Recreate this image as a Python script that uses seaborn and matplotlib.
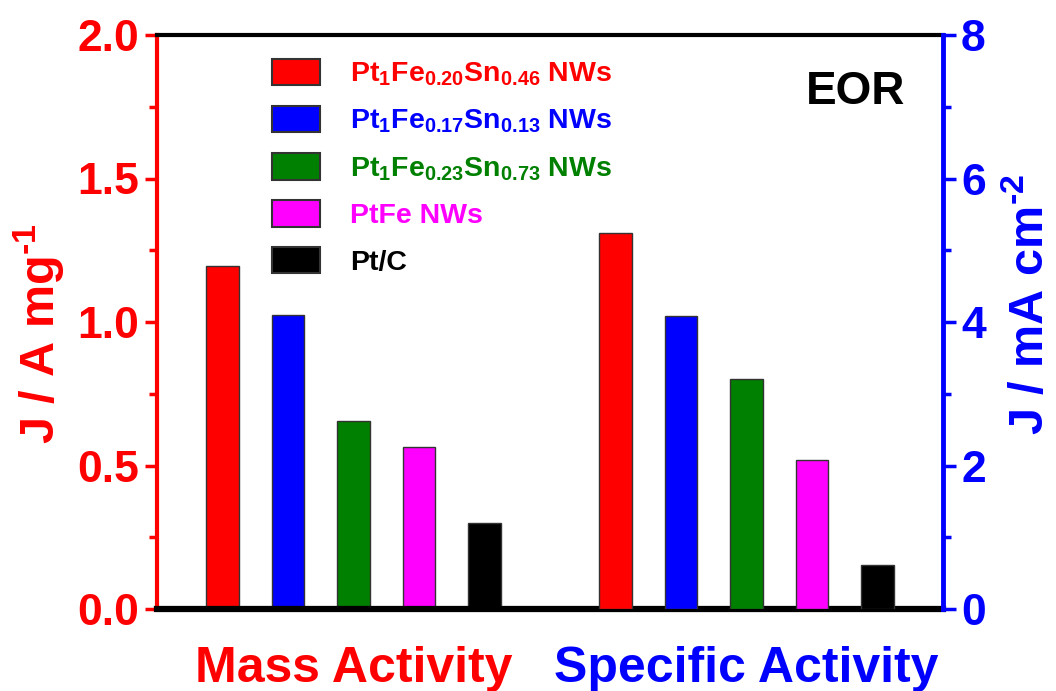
import numpy as np
import pandas as pd
import matplotlib
matplotlib.use("Agg")
import matplotlib.pyplot as plt
import seaborn as sns
from matplotlib.patches import Patch
from matplotlib.ticker import MultipleLocator, AutoMinorLocator

# ---- data ----
materials = ["Pt1Fe0.20Sn0.46 NWs", "Pt1Fe0.17Sn0.13 NWs", "Pt1Fe0.23Sn0.73 NWs", "PtFe NWs", "Pt/C"]
legend_labels = [r"$\mathregular{Pt_1Fe_{0.20}Sn_{0.46}}$ NWs",
                 r"$\mathregular{Pt_1Fe_{0.17}Sn_{0.13}}$ NWs",
                 r"$\mathregular{Pt_1Fe_{0.23}Sn_{0.73}}$ NWs",
                 "PtFe NWs", "Pt/C"]
colors = ["#FF0000", "#0000FF", "#008000", "#FF00FF", "#000000"]
mass_activity = [1.195, 1.025, 0.655, 0.565, 0.30]       # A mg^-1 (left axis)
specific_activity = [5.24, 4.08, 3.20, 2.08, 0.61]       # mA cm^-2 (right axis)
group_labels = ["Mass Activity", "Specific Activity"]
group_colors = ["#FF0000", "#0000FF"]

sns.set_style("ticks")
plt.rcParams['font.family'] = ['Liberation Sans', 'DejaVu Sans']
plt.rcParams['font.weight'] = 'bold'
plt.rcParams['mathtext.fontset'] = 'custom'
plt.rcParams['mathtext.rm'] = 'Liberation Sans:bold'
plt.rcParams['mathtext.it'] = 'Liberation Sans:bold'
plt.rcParams['mathtext.bf'] = 'Liberation Sans:bold'

fig = plt.figure(figsize=(10.56, 6.91), dpi=100)
ax = fig.add_axes([157/1056, 1-609/691, (943-157)/1056, (609-35)/691])
ax2 = ax.twinx()

pos_mass = np.arange(len(materials))
pos_spec = np.arange(len(materials)) + len(materials) + 1
pal = dict(zip(materials, colors))

df_mass = pd.DataFrame({"pos": pos_mass, "val": mass_activity, "mat": materials})
df_spec = pd.DataFrame({"pos": pos_spec, "val": specific_activity, "mat": materials})

sns.barplot(data=df_mass, x="pos", y="val", hue="mat", palette=pal, native_scale=True,
            dodge=False, width=0.5, saturation=1, edgecolor="#333333", linewidth=1,
            legend=False, ax=ax)
sns.barplot(data=df_spec, x="pos", y="val", hue="mat", palette=pal, native_scale=True,
            dodge=False, width=0.5, saturation=1, edgecolor="#333333", linewidth=1,
            legend=False, ax=ax2)

ax.set_xlim(-1, 2 * len(materials) + 1)
ax.set_ylim(0, 2.0)
ax2.set_ylim(0, 8)

# x labels at group centers
centers = [pos_mass.mean(), pos_spec.mean()]
ax.set_xticks(centers)
ax.set_xticklabels(group_labels, fontsize=36, fontweight='bold')
for t, c in zip(ax.get_xticklabels(), group_colors):
    t.set_color(c)
ax.tick_params(axis='x', length=0, pad=27)
ax.set_xlabel("")
ax2.set_xlabel("")

# left axis
ax.yaxis.set_major_locator(MultipleLocator(0.5))
ax.yaxis.set_minor_locator(AutoMinorLocator(2))
ax.tick_params(axis='y', which='major', colors='#FF0000', labelsize=32, length=9, width=2.5, direction='out', pad=4)
ax.tick_params(axis='y', which='minor', colors='#FF0000', length=6, width=2.5, direction='out')
for t in ax.get_yticklabels():
    t.set_fontweight('bold')
ax.set_ylabel(r"J / A mg$^{\text{-}1}$", color='#FF0000', fontsize=35, fontweight='bold')
ax.yaxis.set_label_coords(-0.115, 0.48)

# right axis
ax2.yaxis.set_major_locator(MultipleLocator(2))
ax2.yaxis.set_minor_locator(AutoMinorLocator(2))
ax2.tick_params(axis='y', which='major', colors='#0000FF', labelsize=32, length=9, width=2.5, direction='out', pad=4)
ax2.tick_params(axis='y', which='minor', colors='#0000FF', length=6, width=2.5, direction='out')
for t in ax2.get_yticklabels():
    t.set_fontweight('bold')
ax2.set_ylabel(r"J / mA cm$^{\text{-}2}$", color='#0000FF', fontsize=35, fontweight='bold', rotation=90)
ax2.yaxis.set_label_coords(1.08, 0.53)

# spines
for a in (ax, ax2):
    for s in a.spines.values():
        s.set_visible(True)
ax.spines['left'].set_color('#FF0000'); ax.spines['left'].set_linewidth(3)
ax.spines['right'].set_visible(False)
ax.spines['top'].set_color('black'); ax.spines['top'].set_linewidth(3)
ax.spines['bottom'].set_color('black'); ax.spines['bottom'].set_linewidth(4.5)
ax2.spines['right'].set_color('#0000FF'); ax2.spines['right'].set_linewidth(3.5)
ax2.spines['left'].set_visible(False)
ax2.spines['top'].set_visible(False)
ax2.spines['bottom'].set_visible(False)

# legend
handles = [Patch(facecolor=c, edgecolor='#333333', linewidth=1.5) for c in colors]
leg = ax2.legend(handles, legend_labels, loc='upper left',
                 bbox_to_anchor=(272/1056, 1-59/691), bbox_transform=fig.transFigure,
                 frameon=False, fontsize=20.5, handlelength=1.68, handleheight=1.05,
                 handletextpad=1.05, labelspacing=0.62, borderpad=0, borderaxespad=0)
for t, c in zip(leg.get_texts(), colors):
    t.set_color(c)
    t.set_fontweight('bold')

ax2.text(0.952, 0.9, "EOR", transform=ax.transAxes, ha='right', va='center',
         fontsize=33, fontweight='bold', color='black')

fig.savefig("out.png", dpi=100)
